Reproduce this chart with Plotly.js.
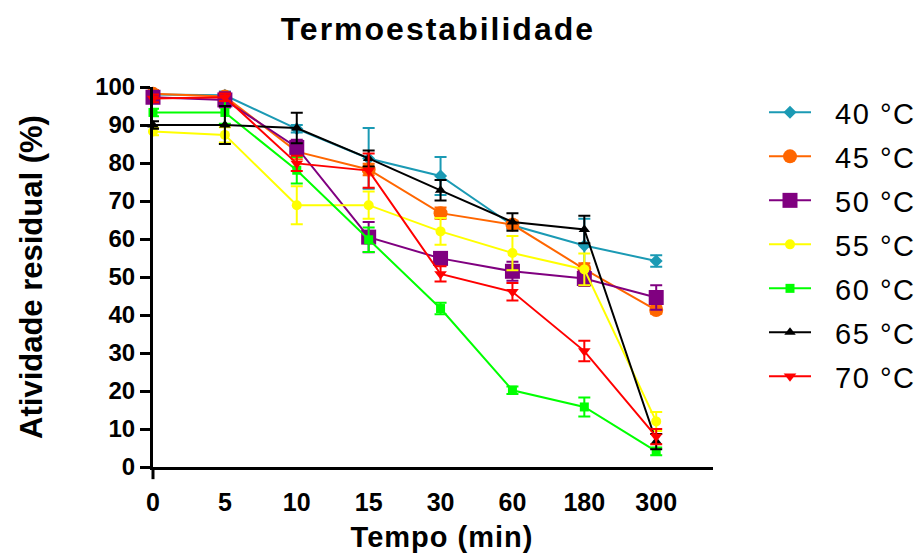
<!DOCTYPE html>
<html>
<head>
<meta charset="utf-8">
<script src="https://cdn.plot.ly/plotly-3.0.1.min.js"></script>
<style>
  body { margin: 0; background: #fff; }
  #chart { width: 916px; height: 557px; }
  .gtitle { letter-spacing: 2px; }
  .xtitle { letter-spacing: 1px; transform: translate(9px, 0px); }
  .legendtext { letter-spacing: 1.5px; }
</style>
</head>
<body>
<div id="chart"></div>
<script>
// Time points (categorical, evenly spaced)
const timeLabels = ['0', '5', '10', '15', '30', '60', '180', '300'];
const seriesNames = ['40 °C', '45 °C', '50 °C', '55 °C', '60 °C', '65 °C', '70 °C'];

// Residual activity (%) and error values per temperature
const t40 = [98.0, 97.8, 89.0, 81.2, 76.6, 63.6, 58.3, 54.2];
const t40err = [1.0, 1.0, 1.0, 8.0, 5.0, 1.0, 7.0, 1.5];
const t45 = [98.2, 97.5, 83.0, 78.3, 66.8, 63.8, 52.1, 41.3];
const t45err = [1.0, 1.0, 2.0, 1.5, 1.5, 1.0, 1.5, 1.0];
const t50 = [97.3, 96.6, 84.1, 60.5, 54.9, 51.5, 49.6, 44.6];
const t50err = [1.5, 2.0, 2.0, 4.0, 1.5, 2.5, 2.0, 3.2];
const t55 = [88.3, 87.4, 68.9, 68.9, 62.0, 56.3, 52.0, 12.0];
const t55err = [1.0, 2.0, 5.0, 3.6, 3.5, 4.5, 4.2, 2.5];
const t60 = [93.3, 93.3, 78.1, 59.8, 41.7, 20.2, 15.8, 4.1];
const t60err = [1.0, 3.0, 3.5, 3.2, 1.5, 1.0, 2.5, 1.0];
const t65 = [90.0, 90.0, 89.2, 81.2, 72.8, 64.5, 62.5, 6.7];
const t65err = [1.0, 5.0, 4.0, 2.1, 2.7, 2.3, 3.6, 2.0];
const t70 = [97.0, 97.3, 79.9, 78.0, 50.8, 46.1, 30.5, 8.0];
const t70err = [1.0, 1.0, 2.0, 4.5, 2.0, 2.3, 2.7, 2.0];

const seriesValues = [t40, t45, t50, t55, t60, t65, t70];
const seriesErrors = [t40err, t45err, t50err, t55err, t60err, t65err, t70err];
const seriesColors = ['#1b9ab4', '#ff6600', '#800080', '#ffff00', '#00ff00', '#000000', '#ff0000'];
const seriesSymbols = ['diamond', 'circle', 'square', 'circle', 'square', 'triangle-up', 'triangle-down'];
const seriesSizes = [10, 14, 15, 10, 9, 10, 11];

const xIdx = timeLabels.map((_, i) => i);

const traces = seriesNames.map((name, k) => ({
  type: 'scatter',
  mode: 'lines+markers',
  name: '\u00a0\u00a0' + name,
  legendgroup: 'g' + k,
  x: xIdx,
  y: seriesValues[k],
  cliponaxis: false,
  line: { color: seriesColors[k], width: 2 },
  marker: { color: seriesColors[k], symbol: seriesSymbols[k], size: seriesSizes[k] },
  error_y: { type: 'data', array: seriesErrors[k], visible: true, color: seriesColors[k], thickness: 2, width: 6 }
}));

const layout = {
  width: 916,
  height: 557,
  margin: { l: 153, r: 203, t: 87, b: 90 },
  paper_bgcolor: '#ffffff',
  plot_bgcolor: '#ffffff',
  title: {
    text: '<b>Termoestabilidade</b>',
    font: { family: 'Liberation Sans, Arial, sans-serif', size: 32, color: '#000' },
    x: 0.478, xref: 'container', xanchor: 'center',
    y: 0.948, yref: 'container', yanchor: 'middle'
  },
  xaxis: {
    range: [0, 7.79],
    tickmode: 'array',
    tickvals: xIdx,
    ticktext: timeLabels,
    ticks: '',
    ticklabelstandoff: 11,
    showgrid: false,
    zeroline: false,
    showline: true,
    linecolor: '#000',
    linewidth: 3,
    tickfont: { family: 'Liberation Sans, Arial, sans-serif', size: 25, color: '#000', weight: 'bold' },
    title: {
      text: '<b>Tempo (min)</b>',
      font: { family: 'Liberation Sans, Arial, sans-serif', size: 29, color: '#000' },
      standoff: 12
    }
  },
  yaxis: {
    range: [0, 100],
    tickmode: 'linear',
    tick0: 0,
    dtick: 10,
    ticks: 'outside',
    ticklen: 10,
    tickwidth: 3,
    tickcolor: '#000',
    showgrid: false,
    zeroline: false,
    showline: true,
    linecolor: '#000',
    linewidth: 3,
    tickfont: { family: 'Liberation Sans, Arial, sans-serif', size: 24, color: '#000', weight: 'bold' },
    title: {
      text: '<b>Atividade residual (%)</b>',
      font: { family: 'Liberation Sans, Arial, sans-serif', size: 31, color: '#000' },
      standoff: 44
    }
  },
  showlegend: true,
  legend: {
    xref: 'container', yref: 'container',
    x: 764 / 916, xanchor: 'left',
    y: 1 - 87 / 557, yanchor: 'top',
    maxheight: 480,
    traceorder: 'grouped',
    tracegroupgap: 3.3,
    itemwidth: 42,
    font: { family: 'Liberation Sans, Arial, sans-serif', size: 29, color: '#000' },
    bgcolor: 'rgba(0,0,0,0)'
  },
  shapes: [
    { type: 'line', xref: 'paper', yref: 'paper', x0: 0, x1: 0, y0: 0, y1: -0.032,
      line: { color: '#000', width: 3 } }
  ]
};

Plotly.newPlot('chart', traces, layout, { displayModeBar: false, staticPlot: true });
</script>
</body>
</html>
